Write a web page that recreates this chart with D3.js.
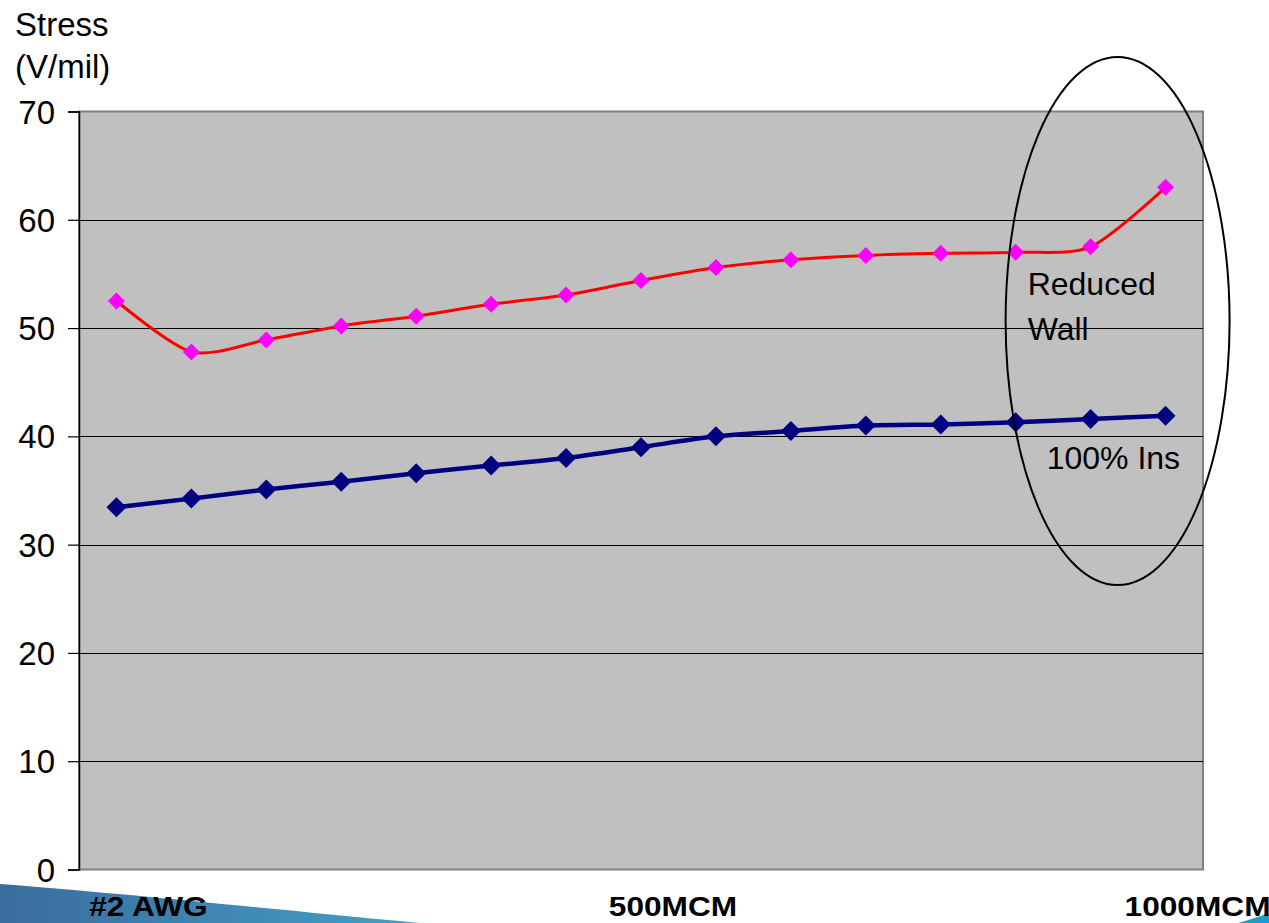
<!DOCTYPE html>
<html>
<head>
<meta charset="utf-8">
<script src="https://cdn.jsdelivr.net/npm/d3@7/dist/d3.min.js"></script>
<style>
html,body{margin:0;padding:0;background:#fff;}
svg{display:block;font-family:"Liberation Sans",Arial,sans-serif;}
</style>
</head>
<body>
<svg id="chart" width="1269" height="923"></svg>
<script>
// ---- data ----
const categories = d3.range(1, 16).map(i => "C" + i);
const reducedWall = [52.5, 47.8, 48.9, 50.2, 51.1, 52.2, 53.05, 54.4, 55.6, 56.3, 56.7, 56.9, 57.0, 57.5, 63.0];
const fullIns     = [33.45, 34.25, 35.1, 35.8, 36.6, 37.3, 38.0, 39.0, 40.0, 40.5, 41.0, 41.1, 41.3, 41.6, 41.9];
const yTicks = [0, 10, 20, 30, 40, 50, 60, 70];
const xTickLabels = [
  {cat: "C1", label: "#2 AWG"},
  {cat: "C8", label: "500MCM"},
  {cat: "C15", label: "1000MCM"}
];
const yTitle = ["Stress", "(V/mil)"];
const annotations = {reduced: ["Reduced", "Wall"], full: "100% Ins"};

// ---- layout ----
const svg = d3.select("#chart");
const plot = {left: 79, right: 1203, top: 111.5, bottom: 869.5};

const defs = svg.append("defs");
const grad = defs.append("linearGradient").attr("id", "swoosh").attr("x1", "0").attr("x2", "1").attr("y1", "0").attr("y2", "0");
grad.append("stop").attr("offset", "0").attr("stop-color", "#3a6c9e");
grad.append("stop").attr("offset", "1").attr("stop-color", "#44a0c6");

// background decorations (template swooshes)
svg.append("path")
  .attr("d", "M0,884 C120,893 280,910 420,923 L0,923 Z")
  .attr("fill", "url(#swoosh)");
svg.append("path")
  .attr("d", "M1238,923 C1250,920 1260,916 1269,913 L1269,923 Z")
  .attr("fill", "#1e9ccf");

const x = d3.scalePoint().domain(categories).range([plot.left, plot.right]).padding(0.5);
const y = d3.scaleLinear().domain([0, 70]).range([plot.bottom, plot.top]);

// plot area
svg.append("rect")
  .attr("x", plot.left).attr("y", plot.top)
  .attr("width", plot.right - plot.left).attr("height", plot.bottom - plot.top)
  .attr("fill", "#c0c0c0").attr("stroke", "#808080").attr("stroke-width", 2);

// gridlines
svg.append("g").selectAll("line").data(yTicks.filter(t => t > 0 && t < 70)).join("line")
  .attr("x1", plot.left).attr("x2", plot.right)
  .attr("y1", d => Math.round(y(d)) + 0.5).attr("y2", d => Math.round(y(d)) + 0.5)
  .attr("stroke", "#000").attr("stroke-width", 1);

// y axis
const yAxis = d3.axisLeft(y).tickValues(yTicks).tickSize(11).tickPadding(13).tickFormat(d3.format("d"));
const gy = svg.append("g").attr("transform", `translate(${plot.left},0)`).call(yAxis);
gy.select(".domain").attr("stroke", "#000").attr("stroke-width", 1.5);
gy.selectAll(".tick line").attr("stroke", "#000").attr("stroke-width", 1.2);
gy.selectAll(".tick text").attr("font-size", 33).attr("fill", "#000")
  .attr("font-family", "'Liberation Sans', Arial, sans-serif").attr("dy", "0.35em");

// y title
svg.append("g").selectAll("text").data(yTitle).join("text")
  .attr("x", 15).attr("y", (d, i) => 36 + i * 42)
  .attr("font-size", 33).attr("fill", "#000").text(d => d);

// x labels (bold, horizontally stretched like the original)
svg.append("g").selectAll("text").data(xTickLabels).join("text")
  .attr("x", d => x(d.cat) + 32).attr("y", 916)
  .attr("text-anchor", "middle")
  .attr("font-size", 28).attr("font-weight", "bold").attr("fill", "#000")
  .text(d => d.label)
  .each(function() {
    const w = this.getComputedTextLength();
    d3.select(this).attr("textLength", w * 1.13).attr("lengthAdjust", "spacingAndGlyphs");
  });

// lines
const line = d3.line().x((d, i) => x(categories[i])).y(d => y(d)).curve(d3.curveCardinal.tension(0.2));
svg.append("path").datum(fullIns).attr("d", line)
  .attr("fill", "none").attr("stroke", "#000080").attr("stroke-width", 4.5);
svg.append("path").datum(reducedWall).attr("d", line)
  .attr("fill", "none").attr("stroke", "#ff0000").attr("stroke-width", 3);

const diamond = (s) => `M0,${-s}L${s},0L0,${s}L${-s},0Z`;
svg.append("g").selectAll("path").data(fullIns).join("path")
  .attr("transform", (d, i) => `translate(${x(categories[i])},${y(d)})`)
  .attr("d", diamond(10)).attr("fill", "#000080");
svg.append("g").selectAll("path").data(reducedWall).join("path")
  .attr("transform", (d, i) => `translate(${x(categories[i])},${y(d)})`)
  .attr("d", diamond(8.5)).attr("fill", "#ff00ff");

// annotations
svg.append("g").selectAll("text").data(annotations.reduced).join("text")
  .attr("x", x("C13") + 12).attr("y", (d, i) => y(53.1) + i * 45)
  .attr("font-size", 32).attr("fill", "#000").text(d => d);
svg.append("text")
  .attr("x", x("C13") + 31).attr("y", y(37.0))
  .attr("font-size", 32).attr("fill", "#000").text(annotations.full);

// ellipse
svg.append("ellipse")
  .attr("cx", x("C14") + 27).attr("cy", 321)
  .attr("rx", 112).attr("ry", 264)
  .attr("fill", "none").attr("stroke", "#000").attr("stroke-width", 2);
</script>
</body>
</html>
